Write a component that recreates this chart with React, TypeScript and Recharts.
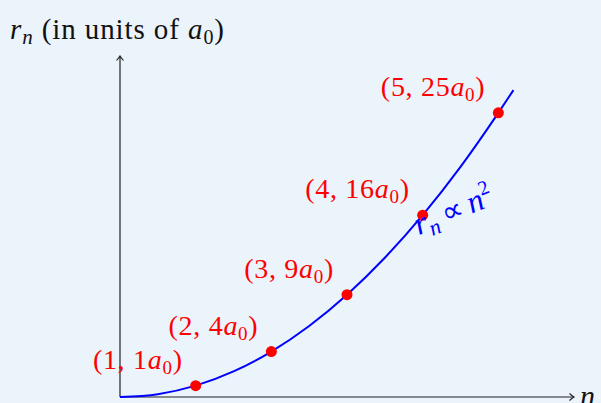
import React from "react";
import {
  ComposedChart,
  Line,
  Scatter,
  XAxis,
  YAxis,
  ReferenceLine,
  ReferenceDot,
} from "recharts";

// Bohr radius grows as n^2: highlighted orbits
const nValues = [1, 2, 3, 4, 5];
const rValues = [1, 4, 9, 16, 25];

// points along the r_n ∝ n^2 curve
const curveN = [0, 0.5, 1, 1.5, 2, 2.5, 3, 3.5, 4, 4.5, 5, 5.2];
const curveR = [0, 0.25, 1, 2.25, 4, 6.25, 9, 12.25, 16, 20.25, 25, 27];

const xDomain = [0, 6];
const yDomain = [0, 30];

const orbitPoints = nValues.map((n, i) => ({ n, r: rValues[i] }));
const curvePoints = curveN.map((n, i) => ({ n, r: curveR[i] }));

const FONT = "'Liberation Serif', 'DejaVu Serif', serif";
const BG = "#ebf3fb";
const RED = "#ff0000";
const BLUE = "#0000ff";
const AXIS = "#222";

const ArrowHead = ({ x, y, dir }: { x: number; y: number; dir: "right" | "up" }) => {
  const d =
    dir === "right"
      ? `M${x - 4.5},${y - 3.5} Q${x - 1.5},${y - 0.8} ${x},${y} Q${x - 1.5},${y + 0.8} ${x - 4.5},${y + 3.5}`
      : `M${x - 3.5},${y + 4.5} Q${x - 0.8},${y + 1.5} ${x},${y} Q${x + 0.8},${y + 1.5} ${x + 3.5},${y + 4.5}`;
  return <path d={d} fill="none" stroke={AXIS} strokeWidth={1.1} />;
};

const XAxisShape = (p: any) => (
  <g>
    <line x1={p.x1} y1={p.y1} x2={p.x2} y2={p.y2} stroke={AXIS} strokeWidth={1.2} />
    <ArrowHead x={p.x2} y={p.y2} dir="right" />
    <text x={p.x2 + 6} y={p.y2 + 9} fontFamily={FONT} fontStyle="italic" fontSize={30} fill="#111">
      n
    </text>
  </g>
);

const YAxisShape = (p: any) => {
  const top = Math.min(p.y1, p.y2);
  return (
    <g>
      <line x1={p.x1} y1={p.y1} x2={p.x2} y2={p.y2} stroke={AXIS} strokeWidth={1.2} />
      <ArrowHead x={p.x1} y={top} dir="up" />
      <text x={10} y={39} fontFamily={FONT} fontSize={29} fill="#111" letterSpacing={0.9}>
        <tspan fontStyle="italic">r</tspan>
        <tspan fontStyle="italic" fontSize={21} dy={5}>n</tspan>
        <tspan dy={-5}> (in units of </tspan>
        <tspan fontStyle="italic">a</tspan>
        <tspan fontSize={20} dy={5}>0</tspan>
        <tspan dy={-5}>)</tspan>
      </text>
    </g>
  );
};

const OrbitMark = (p: any) => {
  const { cx, cy, payload } = p;
  return (
    <g>
      <circle cx={cx} cy={cy} r={5.5} fill={RED} />
      <text
        x={cx - 13}
        y={cy - 17}
        textAnchor="end"
        fontFamily={FONT}
        fontSize={28}
        fill={RED}
        letterSpacing={0.7}
      >
        <tspan>{`(${payload.n}, ${payload.r}`}</tspan>
        <tspan fontStyle="italic">a</tspan>
        <tspan fontSize={19} dy={5}>0</tspan>
        <tspan dy={-5}>)</tspan>
      </text>
    </g>
  );
};

const CurveLabel = (p: any) => {
  const x = p.cx - 4;
  const y = p.cy + 20;
  return (
    <text
      x={x}
      y={y}
      transform={`rotate(-22 ${x} ${y})`}
      fontFamily={FONT}
      fontSize={32}
      fill={BLUE}
    >
      <tspan fontStyle="italic">r</tspan>
      <tspan fontStyle="italic" fontSize={22} dy={6}>n</tspan>
      <tspan dy={-6} fontFamily="'DejaVu Sans', sans-serif" fontSize={30}>{"\u2009∝\u2009"}</tspan>
      <tspan fontStyle="italic">n</tspan>
      <tspan fontSize={20} dy={-13}>2</tspan>
    </text>
  );
};

export default function App() {
  return (
    <div style={{ position: "absolute", left: 0, top: 0, width: 601, height: 403, background: BG }}>
      <ComposedChart
        width={601}
        height={403}
        margin={{ top: 56, right: 27, bottom: 6, left: 120 }}
      >
        <XAxis type="number" dataKey="n" domain={xDomain} hide />
        <YAxis type="number" dataKey="r" domain={yDomain} hide />
        <ReferenceLine
          segment={[{ x: 0, y: 0 }, { x: 6, y: 0 }]}
          shape={XAxisShape}
          ifOverflow="visible"
        />
        <ReferenceLine
          segment={[{ x: 0, y: 0 }, { x: 0, y: 30 }]}
          shape={YAxisShape}
          ifOverflow="visible"
        />
        <Line
          data={curvePoints}
          dataKey="r"
          type="monotone"
          stroke={BLUE}
          strokeWidth={2}
          dot={false}
          activeDot={false}
          isAnimationActive={false}
        />
        <Scatter data={orbitPoints} dataKey="r" shape={OrbitMark} isAnimationActive={false} />
        <ReferenceDot x={4} y={16} r={0} shape={CurveLabel} ifOverflow="visible" />
      </ComposedChart>
    </div>
  );
}
